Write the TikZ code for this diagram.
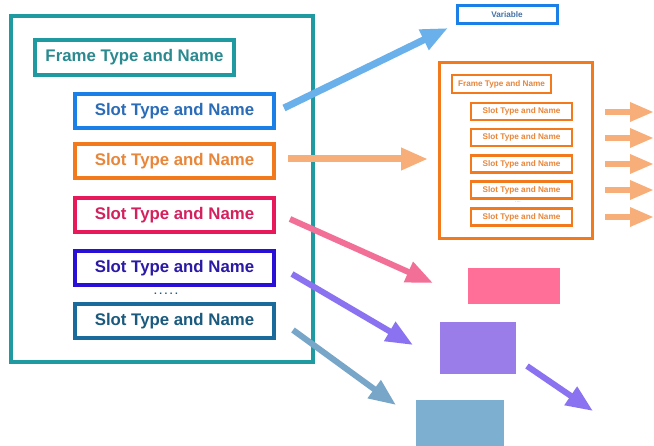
\documentclass[tikz,border=0pt]{standalone}
\usepackage{fontspec}
\setmainfont{Liberation Sans}
\usetikzlibrary{arrows.meta}
\definecolor{cteal}{HTML}{1E9AA0}
\definecolor{ctealtxt}{HTML}{2A8A8F}
\definecolor{cblue}{HTML}{1A80E8}
\definecolor{cbluetxt}{HTML}{2A6CB8}
\definecolor{corange}{HTML}{F27A1C}
\definecolor{corangetxt}{HTML}{E8863A}
\definecolor{cpink}{HTML}{E8195A}
\definecolor{cpinktxt}{HTML}{D4205E}
\definecolor{cindigo}{HTML}{2A10D6}
\definecolor{cindigotxt}{HTML}{2A1AA4}
\definecolor{cnavy}{HTML}{1A6A9C}
\definecolor{cnavytxt}{HTML}{1A5A7E}
\definecolor{aBlue}{HTML}{6AB0EA}
\definecolor{aOrange}{HTML}{F8AE78}
\definecolor{aPink}{HTML}{F27098}
\definecolor{aViolet}{HTML}{8A72F0}
\definecolor{aSteel}{HTML}{78A6C8}
\definecolor{fPink}{HTML}{FF6F98}
\definecolor{fViolet}{HTML}{9B7DEA}
\definecolor{fSteel}{HTML}{7DB0D0}
\tikzset{
  bigtxt/.style={font=\fontsize{16.8}{18}\selectfont\bfseries},
  smalltxt/.style={font=\fontsize{8.2}{9}\selectfont\bfseries},
  slotbox/.style={draw, line width=3.5pt, minimum width=199pt, minimum height=34pt, inner sep=0pt, bigtxt},
  minibox/.style={draw=corange, line width=2.6pt, minimum width=101pt, minimum height=17pt, inner sep=0pt, smalltxt, text=corangetxt},
  bigarrow/.style={line width=7pt, -{Triangle[length=27pt,width=21pt]}},
  smallarrow/.style={line width=6pt, draw=aOrange, -{Triangle[length=24pt,width=18pt]}},
  fillrect/.style={inner sep=0pt}
}
\begin{document}
\begin{tikzpicture}[x=1pt,y=-1pt]
\useasboundingbox[fill=white] (0,0) rectangle (654,446);
% left frame
\node[draw=cteal, line width=3.5pt, minimum width=302pt, minimum height=346pt, inner sep=0pt] (mainframe) at (162,189) {};
\node[slotbox, draw=cteal, text=ctealtxt, minimum height=35pt] (ftype) at (134.5,57.5) {Frame Type and Name};
\node[slotbox, draw=cblue, text=cbluetxt] (s1) at (174.5,111) {Slot Type and Name};
\node[slotbox, draw=corange, text=corangetxt] (s2) at (174.5,161) {Slot Type and Name};
\node[slotbox, draw=cpink, text=cpinktxt] (s3) at (174.5,215) {Slot Type and Name};
\node[slotbox, draw=cindigo, text=cindigotxt] (s4) at (174.5,268) {Slot Type and Name};
\node[font=\fontsize{10}{10}\selectfont\bfseries, text=cnavytxt, inner sep=0pt] (dots) at (166,294) {.\kern2.5pt.\kern2.5pt.\kern2.5pt.\kern2.5pt.};
\node[slotbox, draw=cnavy, text=cnavytxt] (s5) at (174.5,321) {Slot Type and Name};
% variable
\node[draw=cblue, line width=3pt, minimum width=100pt, minimum height=18pt, inner sep=0pt, smalltxt, text=cbluetxt!70!gray] (var) at (507,15) {Variable};
% orange frame
\node[draw=corange, line width=3pt, minimum width=153pt, minimum height=176pt, inner sep=0pt] (oframe) at (515.5,151) {};
\node[minibox, minimum width=99pt, minimum height=18pt] (oftype) at (501.5,84) {Frame Type and Name};
\node[minibox] (o1) at (521.5,111.5) {Slot Type and Name};
\node[minibox] (o2) at (521.5,137.5) {Slot Type and Name};
\node[minibox] (o3) at (521.5,164) {Slot Type and Name};
\node[minibox] (o4) at (521.5,190) {Slot Type and Name};
\node[font=\fontsize{5}{6}\selectfont, text=gray!70, inner sep=0pt] (odots) at (518,202) {....};
\node[minibox] (o5) at (521.5,217) {Slot Type and Name};
% filled rectangles
\node[fillrect, fill=fPink, minimum width=92pt, minimum height=36pt] (rpink) at (514,286) {};
\node[fillrect, fill=fViolet, minimum width=76pt, minimum height=52pt] (rviolet) at (478,348) {};
\node[fillrect, fill=fSteel, minimum width=88pt, minimum height=50pt] (rsteel) at (460,425) {};
% arrow end points
\coordinate (a1s) at (284,108); \coordinate (a1e) at (448,28);
\coordinate (a2s) at (288,159); \coordinate (a2e) at (428,159);
\coordinate (a3s) at (290,219); \coordinate (a3e) at (433,283);
\coordinate (a4s) at (292,274); \coordinate (a4e) at (413,345);
\coordinate (a5s) at (293,330); \coordinate (a5e) at (396,405);
\coordinate (a6s) at (527,366); \coordinate (a6e) at (593,411);
\draw[bigarrow, draw=aBlue, fill=aBlue] (a1s) -- (a1e);
\draw[bigarrow, draw=aOrange, fill=aOrange] (a2s) -- (a2e);
\draw[bigarrow, draw=aPink, fill=aPink, line width=6pt] (a3s) -- (a3e);
\draw[bigarrow, draw=aViolet, fill=aViolet, line width=6pt] (a4s) -- (a4e);
\draw[bigarrow, draw=aSteel, fill=aSteel, line width=6pt] (a5s) -- (a5e);
\draw[bigarrow, draw=aViolet, fill=aViolet, line width=6pt] (a6s) -- (a6e);
% small orange arrows
\foreach \n/\yy in {1/112,2/138,3/164,4/190,5/217}{
  \coordinate (r\n s) at (605,\yy); \coordinate (r\n e) at (654,\yy);
  \draw[smallarrow, fill=aOrange] (r\n s) -- (r\n e);
}
\end{tikzpicture}
\end{document}
